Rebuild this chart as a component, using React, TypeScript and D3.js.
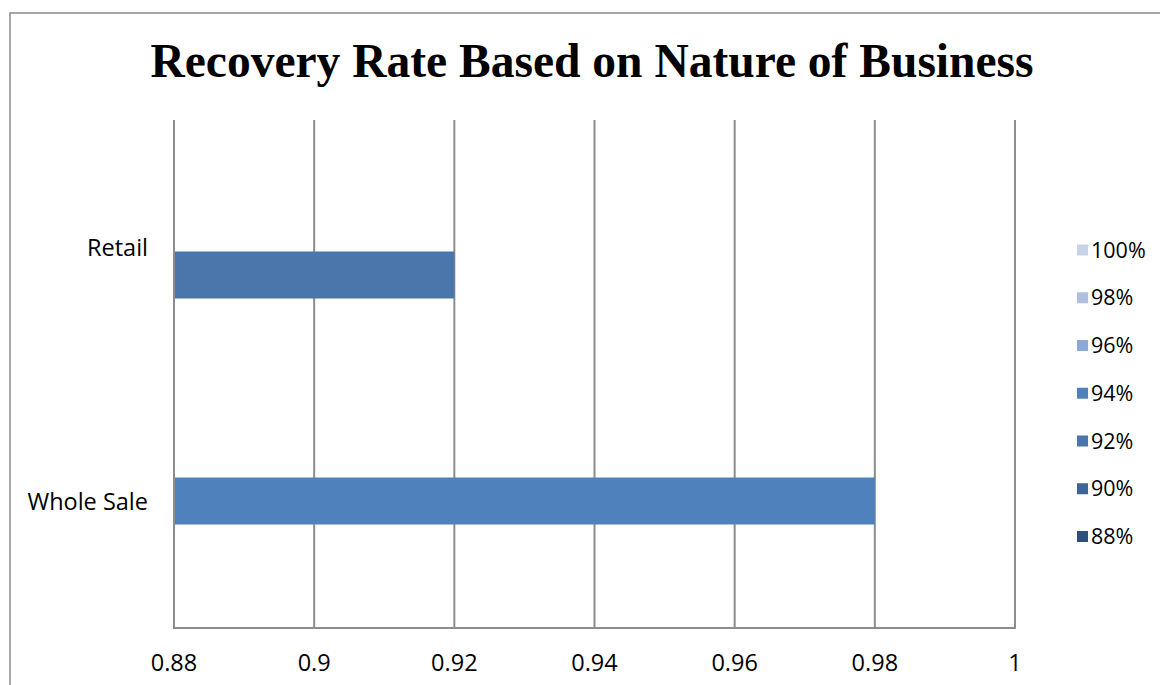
import React from "react";
import * as d3 from "d3";

const categories = ["Retail", "Whole Sale"];
const seriesNames = ["88%", "90%", "92%", "94%", "96%", "98%", "100%"];
const seriesColors = ["#2e4f7a", "#3d6698", "#4a76ab", "#4f81bd", "#8caad5", "#adc0df", "#c8d3e8"];
const barCategory = ["Retail", "Whole Sale"];
const barSeries = ["92%", "94%"];
const barValues = [0.92, 0.98];
const xTicks = [0.88, 0.9, 0.92, 0.94, 0.96, 0.98, 1];
const title = "Recovery Rate Based on Nature of Business";

const W = 1160;
const H = 685;
const plot = { left: 174, right: 1015, top: 120, bottom: 628 };

export default function App() {
  const x = d3.scaleLinear().domain([0.88, 1]).range([plot.left, plot.right]);
  const y = d3.scaleBand().domain(categories).range([plot.top, plot.bottom]).padding(0);
  const bw = y.bandwidth();
  // series slots: first series at bottom of cluster
  const inner = d3
    .scalePoint()
    .domain(seriesNames)
    .range([bw / 2 + 84, bw / 2 - 84]);
  const barH = 47;
  const font = "'Open Sans', 'Liberation Sans', sans-serif";
  const legendScale = d3
    .scalePoint()
    .domain(seriesNames.slice().reverse())
    .range([250, 536.5]);

  return (
    <svg width={W} height={H} style={{ position: "absolute", left: 0, top: 0, background: "#fff" }}>
      <rect x={10} y={13} width={1300} height={1000} fill="#fff" stroke="#8a8a8a" strokeWidth={1.5} />
      <text
        x={592}
        y={77}
        textAnchor="middle"
        fontFamily="'Liberation Serif', 'Times New Roman', serif"
        fontWeight="bold"
        fontSize={47.5}
        fill="#000"
      >
        {title}
      </text>
      {xTicks.map((t) => (
        <line key={t} x1={x(t)} x2={x(t)} y1={plot.top} y2={plot.bottom} stroke="#8c8c8c" strokeWidth={2} />
      ))}
      <line x1={plot.left - 1} x2={plot.right + 1} y1={plot.bottom} y2={plot.bottom} stroke="#8c8c8c" strokeWidth={2} />
      {barValues.map((v, i) => (
        <rect
          key={i}
          x={x(0.88) + 1}
          y={(y(barCategory[i]) as number) + (inner(barSeries[i]) as number) - barH / 2}
          width={x(v) - x(0.88) - 1}
          height={barH}
          fill={seriesColors[seriesNames.indexOf(barSeries[i])]}
        />
      ))}
      {xTicks.map((t) => (
        <text key={"l" + t} x={x(t)} y={671} textAnchor="middle" fontFamily={font} fontSize={23.5} fill="#000">
          {d3.format("")(t)}
        </text>
      ))}
      {categories.map((c) => (
        <text
          key={c}
          x={148}
          y={(y(c) as number) + bw / 2 + 9}
          textAnchor="end"
          fontFamily={font}
          fontSize={23.5}
          fill="#000"
        >
          {c}
        </text>
      ))}
      {seriesNames
        .slice()
        .reverse()
        .map((s) => {
          const cy = legendScale(s) as number;
          return (
            <g key={s}>
              <rect x={1077} y={cy - 5.5} width={11} height={11} fill={seriesColors[seriesNames.indexOf(s)]} />
              <text x={1091} y={cy + 7.7} fontFamily={font} fontSize={21.5} fill="#000">
                {s}
              </text>
            </g>
          );
        })}
    </svg>
  );
}
